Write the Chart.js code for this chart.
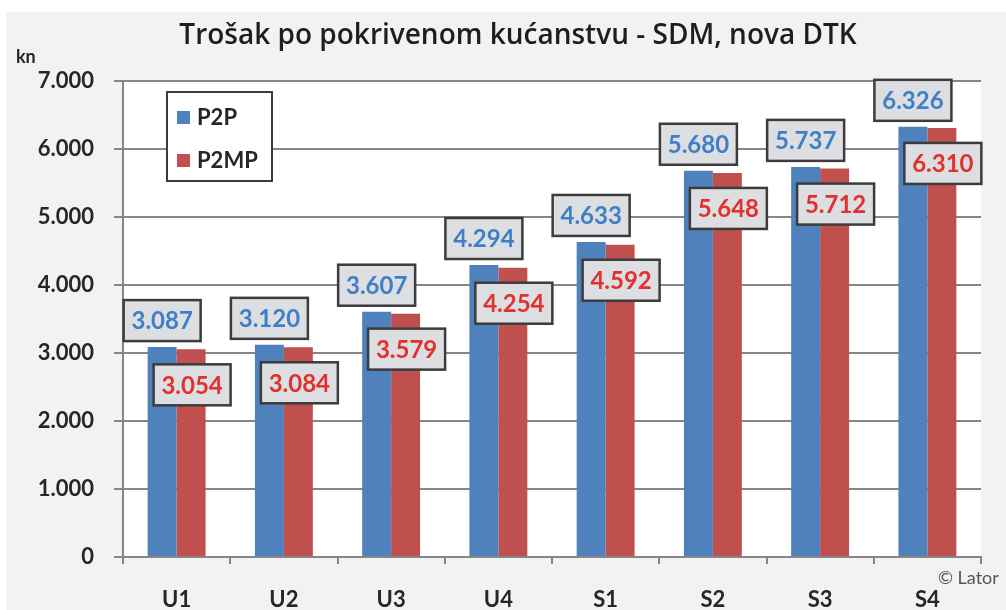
<!DOCTYPE html>
<html>
<head>
<meta charset="utf-8">
<script src="https://cdn.jsdelivr.net/npm/chart.js@4"></script>
<style>
html,body{margin:0;padding:0;background:#fff;}
</style>
</head>
<body>
<canvas id="myChart" width="1006" height="610"></canvas>
<script>
// Datos
const categorias = ['U1', 'U2', 'U3', 'U4', 'S1', 'S2', 'S3', 'S4'];
const valoresP2P = [3087, 3120, 3607, 4294, 4633, 5680, 5737, 6326];
const valoresP2MP = [3054, 3084, 3579, 4254, 4592, 5648, 5712, 6310];
const nombresSeries = ['P2P', 'P2MP'];
const ejeYMax = 7000;
const ejeYPaso = 1000;
const titulo = 'Trošak po pokrivenom kućanstvu - SDM, nova DTK';
const unidad = 'kn';
const fuente = '© Lator';

const azul = '#4f81bd';
const rojo = '#c0504d';
const gris = '#868686';

// 3087 -> "3.087"
function formatoKn(v) {
  return String(v).replace(/\B(?=(\d{3})+(?!\d))/g, '.');
}

// Fondo gris y area blanca
const fondo = {
  id: 'fondo',
  beforeDraw(chart) {
    const {ctx, chartArea: a} = chart;
    ctx.save();
    ctx.fillStyle = '#fff';
    ctx.fillRect(0, 0, chart.width, chart.height);
    ctx.fillStyle = '#f2f2f2';
    ctx.fillRect(6, 12, chart.width - 6, chart.height - 12);
    ctx.fillStyle = '#fff';
    ctx.fillRect(a.left, a.top, a.right - a.left, a.bottom - a.top);
    ctx.restore();
  }
};

function caja(ctx, x, y, texto, color) {
  const w = 77, h = 41;
  ctx.fillStyle = '#dcdee2';
  ctx.fillRect(x - w / 2, y, w, h);
  ctx.strokeStyle = '#3c3c3c';
  ctx.lineWidth = 2.5;
  ctx.strokeRect(x - w / 2, y, w, h);
  ctx.fillStyle = color;
  ctx.font = 'bold 24px Lato';
  ctx.textAlign = 'center';
  ctx.textBaseline = 'middle';
  ctx.fillText(texto, x, y + h / 2 + 1);
}

// Etiquetas de valores
const etiquetas = {
  id: 'etiquetas',
  afterDatasetsDraw(chart) {
    const ctx = chart.ctx;
    ctx.save();
    chart.getDatasetMeta(0).data.forEach((bar, i) => {
      caja(ctx, bar.x, bar.y - 6 - 41, formatoKn(valoresP2P[i]), '#3f7fc6');
    });
    chart.getDatasetMeta(1).data.forEach((bar, i) => {
      caja(ctx, bar.x + 1, bar.y + 15, formatoKn(valoresP2MP[i]), '#e2302c');
    });
    ctx.restore();
  }
};

// Titulo, leyenda y textos sueltos
const textos = {
  id: 'textos',
  afterDraw(chart) {
    const ctx = chart.ctx;
    ctx.save();
    ctx.fillStyle = '#1e1e1e';
    ctx.font = '600 28px "Open Sans"';
    ctx.textAlign = 'center';
    ctx.textBaseline = 'middle';
    ctx.fillText(titulo, 518, 36);

    ctx.font = 'bold 18px Lato';
    ctx.textAlign = 'left';
    ctx.fillStyle = '#262626';
    ctx.fillText(unidad, 16, 57);

    ctx.font = '18px Lato';
    ctx.fillStyle = '#555';
    ctx.fillText(fuente, 938, 578);

    // leyenda
    ctx.fillStyle = '#fff';
    ctx.fillRect(167, 92, 105, 89);
    ctx.strokeStyle = '#3c3c3c';
    ctx.lineWidth = 2;
    ctx.strokeRect(167, 92, 105, 89);
    const colores = [azul, rojo];
    nombresSeries.forEach((n, i) => {
      const y = 117 + i * 43;
      ctx.fillStyle = colores[i];
      ctx.fillRect(177, y - 6, 13, 13);
      ctx.fillStyle = '#262626';
      ctx.font = 'bold 22px Lato';
      ctx.fillText(n, 197, y + 1);
    });
    ctx.restore();
  }
};

const fuenteEje = {family: 'Lato', weight: 'bold', size: 22};

const config = {
  type: 'bar',
  data: {
    labels: categorias,
    datasets: [
      {label: nombresSeries[0], data: valoresP2P, backgroundColor: azul},
      {label: nombresSeries[1], data: valoresP2MP, backgroundColor: rojo}
    ]
  },
  options: {
    responsive: false,
    animation: false,
    devicePixelRatio: 1,
    categoryPercentage: 0.54,
    barPercentage: 1.0,
    layout: {padding: {top: 81, right: 25, bottom: 0, left: 0}},
    plugins: {
      legend: {display: false},
      tooltip: {enabled: false},
      title: {display: false}
    },
    scales: {
      x: {
        grid: {drawOnChartArea: false, drawTicks: true, tickLength: 7, color: gris, lineWidth: 2},
        border: {color: gris, width: 2},
        ticks: {padding: 23, color: '#262626', font: fuenteEje},
        afterFit(s) { s.height = 53; }
      },
      y: {
        min: 0,
        max: ejeYMax,
        grid: {color: gris, lineWidth: 2, tickLength: 9},
        border: {color: gris, width: 2},
        ticks: {stepSize: ejeYPaso, padding: 20, color: '#262626', font: fuenteEje, callback: (v) => formatoKn(v)},
        afterFit(s) { s.width = 123; }
      }
    }
  },
  plugins: [fondo, etiquetas, textos]
};

new Chart(document.getElementById('myChart'), config);
</script>
</body>
</html>
